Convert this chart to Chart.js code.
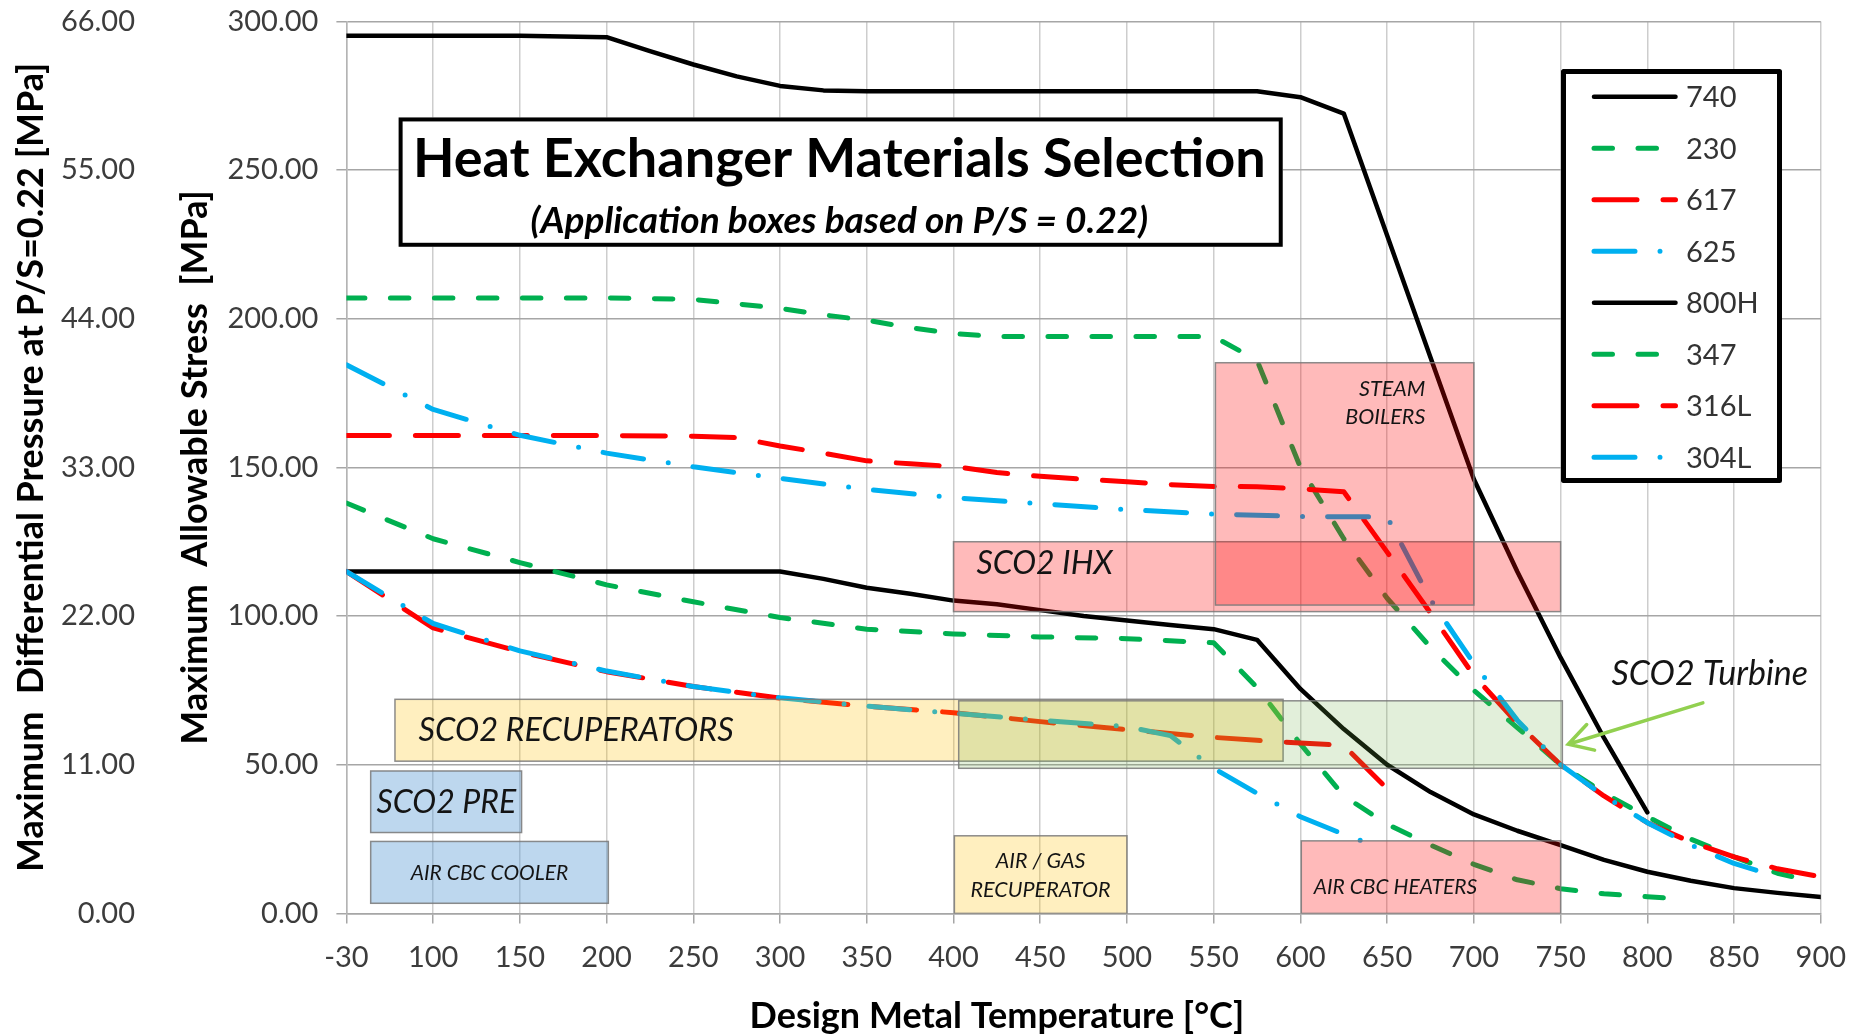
<!DOCTYPE html>
<html>
<head>
<meta charset="utf-8">
<title>Heat Exchanger Materials Selection</title>
<script src="https://cdn.jsdelivr.net/npm/chart.js@4.4.1/dist/chart.umd.min.js"></script>
<style>
  html, body { margin: 0; padding: 0; background: #ffffff; }
  #wrap { width: 1860px; height: 1035px; position: relative; }
</style>
</head>
<body>
<div id="wrap"><canvas id="chart"></canvas></div>
<script>
// ---- Temperature axis -------------------------------------------------------
// The first column is the -30 °C (ambient) case; it occupies the 50 °C slot.
const AMBIENT_T = -30;
const AMBIENT_SLOT = 50;
const xTickLabels = ['-30', '100', '150', '200', '250', '300', '350', '400', '450',
                     '500', '550', '600', '650', '700', '750', '800', '850', '900'];

// ---- Maximum allowable stress [MPa] vs design metal temperature [°C] --------
const t740  = [-30, 100, 150, 200, 225, 250, 275, 300, 325, 350, 400, 450, 500, 550, 575, 600, 625, 650, 675, 700, 725, 750, 775, 800];
const s740  = [295.2, 295.2, 295.2, 294.7, 290, 285.5, 281.5, 278.3, 276.8, 276.5, 276.5, 276.5, 276.5, 276.5, 276.5, 274.5, 269, 228, 187, 146, 115, 86, 59, 34];

const t230  = [-30, 100, 150, 200, 250, 275, 300, 325, 350, 375, 400, 425, 450, 500, 550, 575, 600, 625, 650, 675, 700, 725, 750, 775, 800, 825, 850, 875, 890];
const s230  = [207, 207, 207, 207, 206.5, 205, 203.5, 201.3, 199.5, 197, 195, 194, 194, 194, 194, 186, 150, 126, 106, 89.5, 75, 62.5, 50, 40.5, 32.5, 25, 19, 13.5, 11.5];

const t617  = [-30, 100, 150, 200, 250, 275, 300, 325, 350, 375, 400, 425, 450, 475, 500, 525, 550, 575, 600, 625, 650, 675, 700, 725, 750, 775, 800, 825, 850, 875, 900];
const s617  = [160.7, 160.7, 160.7, 160.7, 160.5, 160, 157.2, 154.8, 152.2, 151.2, 150.3, 148.3, 147, 146, 145.2, 144.2, 143.6, 143.5, 142.8, 141.8, 121.5, 101, 80, 64, 50, 39.5, 30.5, 24, 19, 15, 12.3];

const t625  = [-30, 100, 150, 200, 250, 300, 350, 400, 450, 500, 550, 600, 625, 650, 675, 700, 725, 750, 775, 800, 825, 850, 875];
const s625  = [184.5, 169.5, 160.8, 154.8, 150.2, 146.3, 142.6, 139.8, 137.8, 135.8, 134.3, 133.5, 133.4, 133.4, 105.5, 84, 65, 50, 39.5, 30.5, 23, 16.8, 12.3];

const t800H = [-30, 100, 150, 200, 250, 300, 325, 350, 375, 400, 425, 450, 475, 500, 525, 550, 575, 600, 625, 650, 675, 700, 725, 750, 775, 800, 825, 850, 875, 900];
const s800H = [115, 115, 115, 115, 115, 115, 112.5, 109.5, 107.5, 105.2, 104, 102, 100, 98.5, 97, 95.6, 92, 75.5, 62, 50, 40.8, 33.3, 27.8, 23, 18, 14, 11, 8.5, 6.9, 5.5];

const t347  = [-30, 100, 150, 200, 250, 300, 350, 400, 450, 500, 550, 575, 600, 625, 650, 675, 700, 725, 750, 775, 800, 815];
const s347  = [138, 126, 118, 110.5, 104.8, 99.5, 95.6, 94, 93, 92.4, 91, 76, 57, 39.5, 30, 23, 16.5, 11.3, 8.3, 6.6, 5.6, 5];

const t316L = [-30, 100, 150, 200, 250, 300, 350, 400, 450, 500, 550, 575, 600, 625, 649];
const s316L = [115, 96, 88, 81.3, 76.3, 72.4, 69.7, 67.5, 64.5, 61.8, 59.2, 58.2, 57.3, 56.5, 42.5];

const t304L = [-30, 100, 150, 200, 250, 300, 350, 400, 450, 500, 525, 550, 575, 600, 625, 645];
const s304L = [115, 97.5, 88.3, 81.5, 76.3, 72.5, 69.7, 67.3, 65, 62.8, 59.8, 48.8, 40.4, 32.5, 26.6, 22.3];

// ---- Application boxes (temperature range, stress range) --------------------
const boxNames  = ['SCO2 PRE', 'AIR CBC COOLER', 'SCO2 RECUPERATORS', 'AIR / GAS RECUPERATOR',
                   'SCO2 Turbine', 'SCO2 IHX', 'STEAM BOILERS', 'AIR CBC HEATERS'];
const boxTemp   = [[64, 151], [64, 201], [78, 590], [400.5, 500], [403, 751], [400, 750], [551, 700], [600.5, 750]];
const boxStress = [[27.2, 47.9], [3.4, 24.2], [51.2, 72], [0, 26.1], [48.8, 71.5], [101.5, 125], [103.7, 185.2], [0, 24.4]];

// ---- Styles -----------------------------------------------------------------
const FONT = 'Lato, "Open Sans", "Noto Sans", sans-serif';
const BLACK = '#000000', GREEN = '#00b050', RED = '#ff0000', BLUE = '#00b0f0';
const DASH_GREEN = [18.5, 25.5];
const DASH_RED   = [43, 26];
const DASH_BLUE  = [41, 25, 0, 25];

const series = [
  { label: '740',  t: t740,  s: s740,  color: BLACK, dash: [],         width: 4.5 },
  { label: '230',  t: t230,  s: s230,  color: GREEN, dash: DASH_GREEN, width: 5 },
  { label: '617',  t: t617,  s: s617,  color: RED,   dash: DASH_RED,   width: 5 },
  { label: '625',  t: t625,  s: s625,  color: BLUE,  dash: DASH_BLUE,  width: 5 },
  { label: '800H', t: t800H, s: s800H, color: BLACK, dash: [],         width: 4.5 },
  { label: '347',  t: t347,  s: s347,  color: GREEN, dash: DASH_GREEN, width: 5 },
  { label: '316L', t: t316L, s: s316L, color: RED,   dash: DASH_RED,   width: 5 },
  { label: '304L', t: t304L, s: s304L, color: BLUE,  dash: DASH_BLUE,  width: 5 }
];

const boxFill = {
  'SCO2 PRE': 'rgba(91,155,213,0.4)',
  'AIR CBC COOLER': 'rgba(91,155,213,0.4)',
  'SCO2 RECUPERATORS': 'rgba(255,192,0,0.25)',
  'AIR / GAS RECUPERATOR': 'rgba(255,192,0,0.25)',
  'SCO2 Turbine': 'rgba(112,173,71,0.2)',
  'SCO2 IHX': 'rgba(255,0,0,0.27)',
  'STEAM BOILERS': 'rgba(255,0,0,0.27)',
  'AIR CBC HEATERS': 'rgba(255,0,0,0.27)'
};

// Text placed inside / beside the boxes (anchor in axis units)
const boxLabels = [
  { lines: ['SCO2 PRE'],                  x: 107.6, y: [37.3],         size: 32,   align: 'center' },
  { lines: ['AIR CBC COOLER'],            x: 132.5, y: [13.5],         size: 21,   align: 'center' },
  { lines: ['SCO2 RECUPERATORS'],         x: 91.6,  y: [61.5],         size: 32.5, align: 'left' },
  { lines: ['AIR / GAS', 'RECUPERATOR'],  x: 450.2, y: [17.6, 8.0],    size: 21.5, align: 'center' },
  { lines: ['SCO2 IHX'],                  x: 413.2, y: [117.5],        size: 32,   align: 'left' },
  { lines: ['STEAM', 'BOILERS'],          x: 672,   y: [176.3, 166.9], size: 21.5, align: 'right' },
  { lines: ['AIR CBC HEATERS'],           x: 654.8, y: [8.9],          size: 21,   align: 'center' },
  { lines: ['SCO2 Turbine'],              x: 836,   y: [80.4],         size: 34,   align: 'center' }
];
const turbineArrow = { from: [832, 70.8], to: [754.4, 56.9] };

const titleBox = { t: [80.1, 589.8], s: [224.2, 267.7] };
const titleText = { main: 'Heat Exchanger Materials Selection', sub: '(Application boxes based on P/S = 0.22)',
                    x: 334.2, yMain: 253.4, ySub: 233.0 };
const xTitle = { text: 'Design Metal Temperature [°C]', x: 425, py: 1016 };

const slot = t => (t === AMBIENT_T ? AMBIENT_SLOT : t);

const datasets = series.map((d, i) => ({
  label: d.label,
  data: d.t.map((t, k) => ({ x: slot(t), y: d.s[k] })),
  borderColor: d.color,
  backgroundColor: d.color,
  borderWidth: d.width,
  borderDash: d.dash,
  borderCapStyle: 'round',
  borderJoinStyle: 'round',
  pointRadius: 0,
  pointHoverRadius: 0,
  tension: 0,
  fill: false,
  yAxisID: 'y',
  order: series.length - i   // later series drawn on top
}));

// Boxes, annotations, title panel, x-axis title and the framed legend
const overlayPlugin = {
  id: 'overlay',
  afterDatasetsDraw(chart) {
    const { ctx, chartArea: ca, scales } = chart;
    const X = v => scales.x.getPixelForValue(v);
    const Y = v => scales.y.getPixelForValue(v);

    ctx.save();
    ctx.beginPath();
    ctx.rect(ca.left, ca.top, ca.right - ca.left, ca.bottom - ca.top);
    ctx.clip();

    // application boxes
    boxNames.forEach((name, i) => {
      const x0 = X(boxTemp[i][0]), x1 = X(boxTemp[i][1]);
      const y0 = Y(boxStress[i][1]), y1 = Y(boxStress[i][0]);
      ctx.fillStyle = boxFill[name];
      ctx.fillRect(x0, y0, x1 - x0, y1 - y0);
      ctx.strokeStyle = 'rgba(120,120,120,0.85)';
      ctx.lineWidth = 1.5;
      ctx.strokeRect(x0, y0, x1 - x0, y1 - y0);
    });

    // box captions
    ctx.fillStyle = '#141414';
    ctx.textBaseline = 'middle';
    boxLabels.forEach(b => {
      ctx.font = `italic ${b.size}px ${FONT}`;
      ctx.textAlign = b.align;
      b.lines.forEach((line, k) => ctx.fillText(line, X(b.x), Y(b.y[k])));
    });

    // arrow pointing at the turbine box
    const ax0 = X(turbineArrow.from[0]), ay0 = Y(turbineArrow.from[1]);
    const ax1 = X(turbineArrow.to[0]),   ay1 = Y(turbineArrow.to[1]);
    ctx.strokeStyle = '#92d050';
    ctx.lineWidth = 3.5;
    ctx.lineCap = 'round';
    ctx.beginPath();
    ctx.moveTo(ax0, ay0);
    ctx.lineTo(ax1, ay1);
    const ang = Math.atan2(ay0 - ay1, ax0 - ax1);
    const head = 27, spread = 0.52;
    ctx.moveTo(ax1 + head * Math.cos(ang - spread), ay1 + head * Math.sin(ang - spread));
    ctx.lineTo(ax1, ay1);
    ctx.lineTo(ax1 + head * Math.cos(ang + spread), ay1 + head * Math.sin(ang + spread));
    ctx.stroke();

    // title panel
    const tx0 = X(titleBox.t[0]), tx1 = X(titleBox.t[1]);
    const ty0 = Y(titleBox.s[1]), ty1 = Y(titleBox.s[0]);
    ctx.fillStyle = '#ffffff';
    ctx.fillRect(tx0, ty0, tx1 - tx0, ty1 - ty0);
    ctx.strokeStyle = '#000000';
    ctx.lineWidth = 4;
    ctx.lineJoin = 'miter';
    ctx.strokeRect(tx0 + 2, ty0 + 2, tx1 - tx0 - 4, ty1 - ty0 - 4);
    ctx.fillStyle = '#000000';
    ctx.textAlign = 'center';
    ctx.font = `bold 54px ${FONT}`;
    ctx.fillText(titleText.main, X(titleText.x), Y(titleText.yMain));
    ctx.font = `italic bold 37px ${FONT}`;
    ctx.fillText(titleText.sub, X(titleText.x), Y(titleText.ySub));
    ctx.restore();

    // x-axis title
    ctx.save();
    ctx.fillStyle = '#000000';
    ctx.font = `bold 36px ${FONT}`;
    ctx.textAlign = 'center';
    ctx.textBaseline = 'middle';
    ctx.fillText(xTitle.text, X(xTitle.x), xTitle.py);
    ctx.restore();

    // legend with heavy frame
    const L = { left: 1561, top: 69, right: 1782, bottom: 483, border: 5,
                lineX0: 1594, lineX1: 1675.5, textX: 1686, row0: 96.7, rowStep: 51.5 };
    ctx.save();
    ctx.fillStyle = '#ffffff';
    ctx.fillRect(L.left, L.top, L.right - L.left, L.bottom - L.top);
    ctx.strokeStyle = '#000000';
    ctx.lineWidth = L.border;
    ctx.lineJoin = 'round';
    ctx.strokeRect(L.left + L.border / 2, L.top + L.border / 2,
                   L.right - L.left - L.border, L.bottom - L.top - L.border);
    ctx.font = `29px ${FONT}`;
    ctx.textAlign = 'left';
    ctx.textBaseline = 'middle';
    series.forEach((d, i) => {
      const yy = L.row0 + i * L.rowStep;
      ctx.strokeStyle = d.color;
      ctx.lineWidth = d.width;
      ctx.lineCap = 'round';
      ctx.setLineDash(d.dash);
      ctx.lineDashOffset = 0;
      ctx.beginPath();
      ctx.moveTo(L.lineX0, yy);
      ctx.lineTo(L.lineX1, yy);
      ctx.stroke();
      ctx.setLineDash([]);
      ctx.fillStyle = '#333333';
      ctx.fillText(d.label, L.textX, yy + 1);
    });
    ctx.restore();
  }
};

// keep the plot frame fixed: no extra edge padding from tick labels
function fixedSide(size, prop) {
  return scale => {
    scale[prop] = size;
    scale.paddingTop = 0; scale.paddingBottom = 0;
    scale.paddingLeft = 0; scale.paddingRight = 0;
  };
}

Chart.defaults.font.family = FONT;
Chart.defaults.color = '#3c3c3c';

new Chart(document.getElementById('chart'), {
  type: 'line',
  data: { datasets },
  plugins: [overlayPlugin],
  options: {
    responsive: true,
    maintainAspectRatio: false,
    animation: false,
    devicePixelRatio: 1,
    layout: { padding: { top: 21.4, right: 39.2, left: 0, bottom: 0 } },
    plugins: { legend: { display: false }, tooltip: { enabled: false }, title: { display: false } },
    scales: {
      x: {
        type: 'linear', position: 'bottom', min: 50, max: 900,
        ticks: {
          stepSize: 50, autoSkip: false, maxRotation: 0, minRotation: 0, padding: 17,
          font: { size: 29 }, color: '#3c3c3c',
          callback: v => xTickLabels[Math.round((v - AMBIENT_SLOT) / 50)] ?? ''
        },
        grid: { color: '#cdcdcd', lineWidth: 1.5, tickLength: 10, tickColor: '#a6a6a6' },
        border: { display: true, color: '#a6a6a6', width: 1.5 },
        title: { display: false },
        afterFit: fixedSide(121.6, 'height')
      },
      y: {
        type: 'linear', position: 'left', weight: 0, min: 0, max: 300,
        ticks: { stepSize: 50, padding: 18, font: { size: 29 }, color: '#3c3c3c',
                 callback: v => v.toFixed(2) },
        grid: { color: '#a6a6a6', lineWidth: 1.5, tickLength: 10, tickColor: '#a6a6a6' },
        border: { display: true, color: '#b4b4b4', width: 1.5 },
        title: { display: true, text: 'Maximum  Allowable Stress  [MPa]', color: '#000000',
                 font: { size: 36, weight: 'bold' }, padding: { top: 34, bottom: 0 } },
        afterFit: fixedSide(206.4, 'width')
      },
      yP: {
        type: 'linear', position: 'left', weight: 1, min: 0, max: 66,
        ticks: { stepSize: 11, padding: 5, font: { size: 29 }, color: '#3c3c3c',
                 callback: v => v.toFixed(2) },
        grid: { display: false, drawTicks: false },
        border: { display: false },
        title: { display: true, text: 'Maximum  Differential Pressure at P/S=0.22 [MPa]', color: '#000000',
                 font: { size: 36, weight: 'bold' }, padding: { top: 10, bottom: 0 } },
        afterFit: fixedSide(140, 'width')
      }
    }
  }
});
</script>
</body>
</html>
